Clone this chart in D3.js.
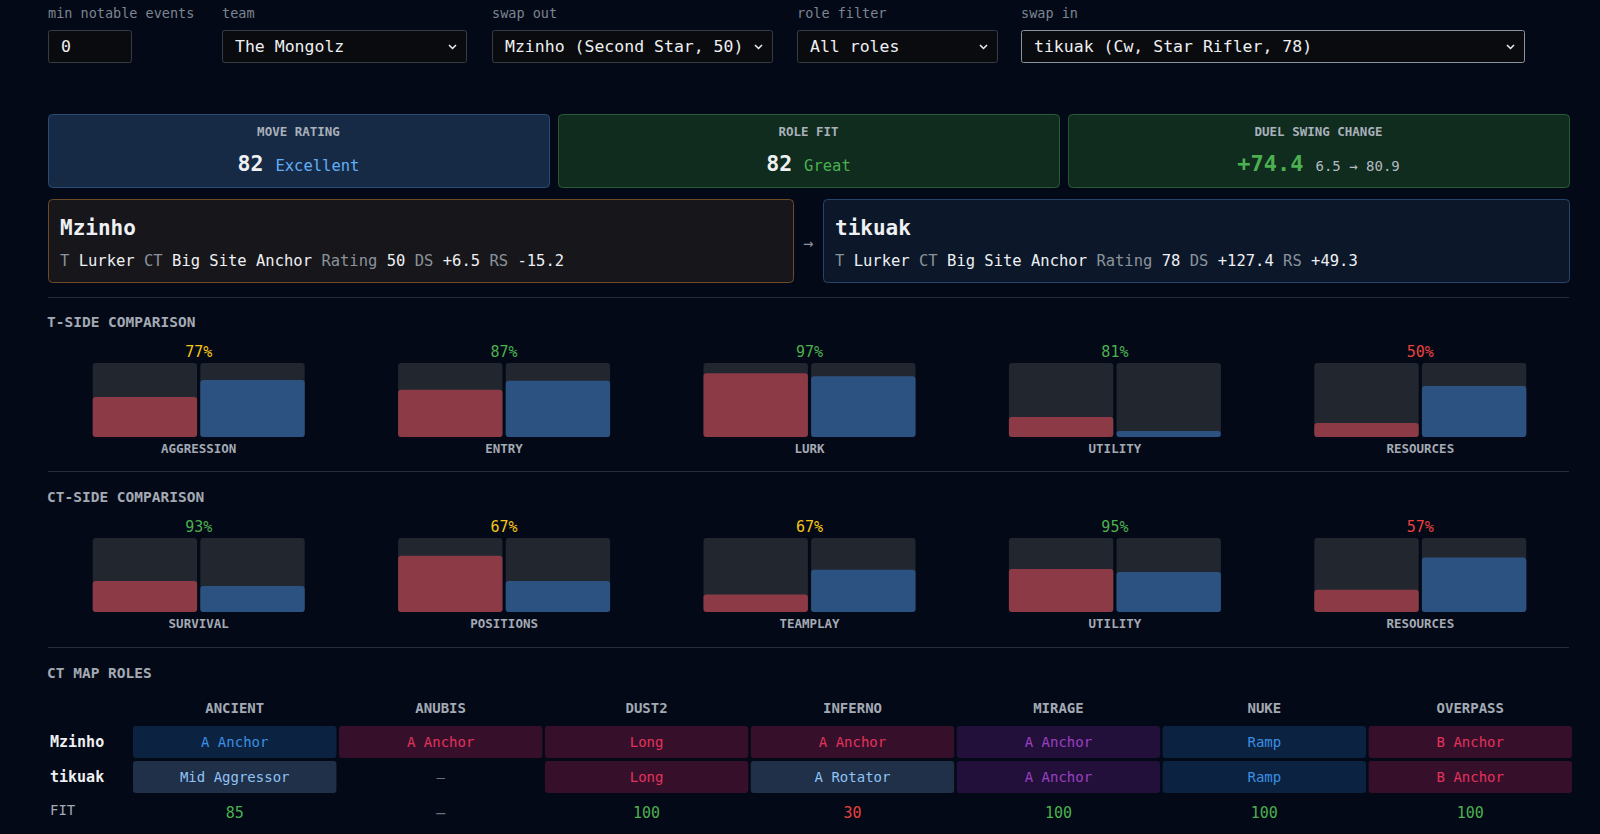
<!DOCTYPE html>
<html>
<head>
<meta charset="utf-8">
<script src="https://cdn.jsdelivr.net/npm/d3@7"></script>
<style>
  html, body { margin: 0; padding: 0; background: #030916; overflow: hidden; }
  svg { display: block; font-family: "DejaVu Sans Mono", "Liberation Mono", monospace; }
</style>
</head>
<body>
<div id="chart"></div>
<script>
// ---- data ----
const controls = [
  { label: 'min notable events', value: '0', x0: 48, x1: 131, arrow: false },
  { label: 'team', value: 'The Mongolz', x0: 222, x1: 466, arrow: true },
  { label: 'swap out', value: 'Mzinho (Second Star, 50)', x0: 492, x1: 772, arrow: true },
  { label: 'role filter', value: 'All roles', x0: 797, x1: 997, arrow: true },
  { label: 'swap in', value: 'tikuak (Cw, Star Rifler, 78)', x0: 1021, x1: 1524, arrow: true }
];

const summaryTitles = ['MOVE RATING', 'ROLE FIT', 'DUEL SWING CHANGE'];
const summaryValues = ['82', '82', '+74.4'];
const summaryNotes = ['Excellent', 'Great', '6.5 \u2192 80.9'];

const players = ['Mzinho', 'tikuak'];
const playerTRole = ['Lurker', 'Lurker'];
const playerCTRole = ['Big Site Anchor', 'Big Site Anchor'];
const playerRating = ['50', '78'];
const playerDS = ['+6.5', '+127.4'];
const playerRS = ['-15.2', '+49.3'];

const tCats = ['AGGRESSION', 'ENTRY', 'LURK', 'UTILITY', 'RESOURCES'];
const tOut = [0.54, 0.64, 0.86, 0.27, 0.19];
const tIn = [0.77, 0.76, 0.82, 0.08, 0.69];
const tFit = [77, 87, 97, 81, 50];

const ctCats = ['SURVIVAL', 'POSITIONS', 'TEAMPLAY', 'UTILITY', 'RESOURCES'];
const ctOut = [0.42, 0.76, 0.235, 0.58, 0.30];
const ctIn = [0.35, 0.42, 0.57, 0.54, 0.735];
const ctFit = [93, 67, 67, 95, 57];

const maps = ['ANCIENT', 'ANUBIS', 'DUST2', 'INFERNO', 'MIRAGE', 'NUKE', 'OVERPASS'];
const outRoles = ['A Anchor', 'A Anchor', 'Long', 'A Anchor', 'A Anchor', 'Ramp', 'B Anchor'];
const inRoles = ['Mid Aggressor', null, 'Long', 'A Rotator', 'A Anchor', 'Ramp', 'B Anchor'];
const outKind = ['navy', 'maroon', 'maroon', 'maroon', 'purple', 'navy', 'maroon'];
const inKind = ['slate', null, 'maroon', 'slate', 'purple', 'navy', 'maroon'];
const mapFit = [85, null, 100, 30, 100, 100, 100];

// ---- styles ----
const W = 1600, H = 834;
const LEFT = 47, RIGHT = 1569;
const green = '#4caf50', yellow = '#f5c518', red = '#e8413f';
const grey = '#8b929c', white = '#eef0f3';
const fitColor = v => v >= 80 ? green : v >= 60 ? yellow : red;
const kindStyle = {
  navy:   { bg: '#0b2341', fg: '#3c8fe2' },
  maroon: { bg: '#36102a', fg: '#e2325c' },
  purple: { bg: '#22103a', fg: '#9b40c2' },
  slate:  { bg: '#1f3048', fg: '#8fc3f5' }
};

const svg = d3.select('#chart').append('svg')
  .attr('width', W)
  .attr('height', H);

// ---- controls row ----
const ctl = svg.append('g').selectAll('g')
  .data(controls)
  .enter()
  .append('g');

ctl.append('text')
  .attr('x', d => d.x0)
  .attr('y', 18)
  .attr('font-size', '13.5px')
  .attr('fill', '#7d8590')
  .text(d => d.label);

ctl.append('rect')
  .attr('x', d => d.x0 + 0.5)
  .attr('y', 30.5)
  .attr('width', d => d.x1 - d.x0)
  .attr('height', 32)
  .attr('rx', 2)
  .attr('fill', '#0a0b0e')
  .attr('stroke', (d, i) => i === controls.length - 1 ? '#8d939c' : '#383c44');

ctl.append('text')
  .attr('x', d => d.x0 + 13)
  .attr('y', 52)
  .attr('font-size', '16.5px')
  .attr('fill', white)
  .text(d => d.value);

ctl.filter(d => d.arrow).append('path')
  .attr('d', d => `M${d.x1 - 17},45 l3.5,3.5 l3.5,-3.5`)
  .attr('fill', 'none')
  .attr('stroke', white)
  .attr('stroke-width', 1.5);

// ---- summary cards ----
const cardX = d3.scaleBand()
  .domain(summaryTitles)
  .range([48, 1569])
  .paddingInner(0.0176);

const cardFill = ['#162a45', '#0f2c1e', '#0f2c1e'];
const cardStroke = ['#2b4b72', '#2a5a37', '#2a5a37'];

const cards = svg.append('g').selectAll('g')
  .data(summaryTitles)
  .enter()
  .append('g')
  .attr('transform', d => `translate(${cardX(d)},114)`);

cards.append('rect')
  .attr('x', 0.5).attr('y', 0.5)
  .attr('width', cardX.bandwidth())
  .attr('height', 73)
  .attr('rx', 4)
  .attr('fill', (d, i) => cardFill[i])
  .attr('stroke', (d, i) => cardStroke[i]);

cards.append('text')
  .attr('x', cardX.bandwidth() / 2)
  .attr('y', 22)
  .attr('text-anchor', 'middle')
  .attr('font-size', '12.5px')
  .attr('font-weight', 'bold')
  .attr('fill', '#a9b0ba')
  .text(d => d);

const vals = cards.append('text')
  .attr('x', cardX.bandwidth() / 2)
  .attr('y', 57)
  .attr('text-anchor', 'middle');

vals.append('tspan')
  .attr('font-size', (d, i) => i === 2 ? '22px' : '21.5px')
  .attr('font-weight', 'bold')
  .attr('fill', (d, i) => i === 2 ? green : white)
  .text((d, i) => summaryValues[i]);

vals.append('tspan')
  .attr('dx', 12)
  .attr('font-size', (d, i) => i === 2 ? '14px' : '15.5px')
  .attr('fill', (d, i) => ['#62aef5', green, '#b5bac2'][i])
  .text((d, i) => summaryNotes[i]);

// ---- player cards ----
const playerBoxes = [
  { x0: 48, x1: 793, fill: '#17171b', stroke: '#6e4a26' },
  { x0: 823, x1: 1569, fill: '#0c1829', stroke: '#26446a' }
];

const pg = svg.append('g').selectAll('g')
  .data(players)
  .enter()
  .append('g')
  .attr('transform', (d, i) => `translate(${playerBoxes[i].x0},199)`);

pg.append('rect')
  .attr('x', 0.5).attr('y', 0.5)
  .attr('width', (d, i) => playerBoxes[i].x1 - playerBoxes[i].x0)
  .attr('height', 83)
  .attr('rx', 4)
  .attr('fill', (d, i) => playerBoxes[i].fill)
  .attr('stroke', (d, i) => playerBoxes[i].stroke);

pg.append('text')
  .attr('x', 12)
  .attr('y', 36)
  .attr('font-size', '21px')
  .attr('font-weight', 'bold')
  .attr('fill', white)
  .text(d => d);

const sub = pg.append('text')
  .attr('x', 12)
  .attr('y', 67)
  .attr('font-size', '15.5px');

function part(sel, fn, col) {
  sel.append('tspan').attr('fill', col).text(fn);
  sel.append('tspan').text(' ');
}
part(sub, () => 'T', grey);
part(sub, (d, i) => playerTRole[i], white);
part(sub, () => 'CT', grey);
part(sub, (d, i) => playerCTRole[i], white);
part(sub, () => 'Rating', grey);
part(sub, (d, i) => playerRating[i], white);
part(sub, () => 'DS', grey);
part(sub, (d, i) => playerDS[i], white);
part(sub, () => 'RS', grey);
sub.append('tspan').attr('fill', white).text((d, i) => playerRS[i]);

svg.append('text')
  .attr('x', 808)
  .attr('y', 249)
  .attr('text-anchor', 'middle')
  .attr('font-size', '17px')
  .attr('fill', grey)
  .text('\u2192');

// ---- dividers ----
svg.append('g').selectAll('line')
  .data([297, 471, 647])
  .enter()
  .append('line')
  .attr('x1', LEFT + 1).attr('x2', RIGHT)
  .attr('y1', d => d + 0.5).attr('y2', d => d + 0.5)
  .attr('stroke', '#262d39');

// ---- comparison bars ----
const barH = 74;
const y = d3.scaleLinear().domain([0, 1]).range([barH, 0]);

function comparison(title, top, cats, outV, inV, fit) {
  svg.append('text')
    .attr('x', LEFT)
    .attr('y', top)
    .attr('font-size', '14.5px')
    .attr('font-weight', 'bold')
    .attr('fill', '#a3aab4')
    .text(title);

  const x = d3.scaleBand().domain(cats).range([LEFT - 1, LEFT + 1526]);
  const inner = d3.scaleBand().domain(['out', 'in']).range([0, 212]).paddingInner(0.03);
  const rows = cats.map((c, i) => ({ cat: c, vals: [outV[i], inV[i]], fit: fit[i] }));

  const g = svg.append('g').selectAll('g')
    .data(rows)
    .enter()
    .append('g')
    .attr('transform', d => `translate(${x(d.cat) + x.bandwidth() / 2 - 106},${top + 36})`);

  g.append('text')
    .attr('x', 106)
    .attr('y', -6)
    .attr('text-anchor', 'middle')
    .attr('font-size', '15px')
    .attr('fill', d => fitColor(d.fit))
    .text(d => d.fit + '%');

  const bars = g.selectAll('g.pair')
    .data(d => d.vals.map((v, k) => ({ key: k ? 'in' : 'out', v })))
    .enter()
    .append('g');

  bars.append('rect')
    .attr('x', d => inner(d.key))
    .attr('y', 0)
    .attr('width', inner.bandwidth())
    .attr('height', barH)
    .attr('rx', 3)
    .attr('fill', '#22272f');

  bars.append('rect')
    .attr('x', d => inner(d.key))
    .attr('y', d => y(d.v))
    .attr('width', inner.bandwidth())
    .attr('height', d => barH - y(d.v))
    .attr('rx', 3)
    .attr('fill', d => d.key === 'out' ? '#8c3b46' : '#2c5282');

  g.append('text')
    .attr('x', 106)
    .attr('y', barH + 16)
    .attr('text-anchor', 'middle')
    .attr('font-size', '12.5px')
    .attr('font-weight', 'bold')
    .attr('fill', '#a3aab4')
    .text(d => d.cat);
}

comparison('T-SIDE COMPARISON', 327, tCats, tOut, tIn, tFit);
comparison('CT-SIDE COMPARISON', 502, ctCats, ctOut, ctIn, ctFit);

// ---- CT map roles table ----
svg.append('text')
  .attr('x', LEFT)
  .attr('y', 678)
  .attr('font-size', '14.5px')
  .attr('font-weight', 'bold')
  .attr('fill', '#a3aab4')
  .text('CT MAP ROLES');

const mx = d3.scaleBand().domain(maps).range([133, 1572]).paddingInner(0.012);

svg.append('g').selectAll('text')
  .data(maps)
  .enter()
  .append('text')
  .attr('x', d => mx(d) + mx.bandwidth() / 2)
  .attr('y', 713)
  .attr('text-anchor', 'middle')
  .attr('font-size', '14px')
  .attr('font-weight', 'bold')
  .attr('fill', '#a3aab4')
  .text(d => d);

const roleRows = [
  { name: players[0], roles: outRoles, kinds: outKind, top: 726 },
  { name: players[1], roles: inRoles, kinds: inKind, top: 761 }
];

roleRows.forEach(r => {
  svg.append('text')
    .attr('x', 50)
    .attr('y', r.top + 21)
    .attr('font-size', '15px')
    .attr('font-weight', 'bold')
    .attr('fill', white)
    .text(r.name);

  const cells = svg.append('g').selectAll('g')
    .data(maps.map((m, i) => ({ map: m, role: r.roles[i], kind: r.kinds[i] })))
    .enter()
    .append('g')
    .attr('transform', d => `translate(${mx(d.map)},${r.top})`);

  cells.filter(d => d.kind).append('rect')
    .attr('width', mx.bandwidth())
    .attr('height', 32)
    .attr('rx', 3)
    .attr('fill', d => kindStyle[d.kind].bg);

  cells.append('text')
    .attr('x', mx.bandwidth() / 2)
    .attr('y', 21)
    .attr('text-anchor', 'middle')
    .attr('font-size', '14px')
    .attr('fill', d => d.kind ? kindStyle[d.kind].fg : '#6b727c')
    .text(d => d.role || '\u2014');
});

svg.append('text')
  .attr('x', 50)
  .attr('y', 815)
  .attr('font-size', '14px')
  .attr('fill', '#a3aab4')
  .text('FIT');

svg.append('g').selectAll('text')
  .data(maps.map((m, i) => ({ map: m, fit: mapFit[i] })))
  .enter()
  .append('text')
  .attr('x', d => mx(d.map) + mx.bandwidth() / 2)
  .attr('y', 818)
  .attr('text-anchor', 'middle')
  .attr('font-size', '15px')
  .attr('fill', d => d.fit == null ? '#6b727c' : fitColor(d.fit))
  .text(d => d.fit == null ? '\u2014' : d.fit);
</script>
</body>
</html>
